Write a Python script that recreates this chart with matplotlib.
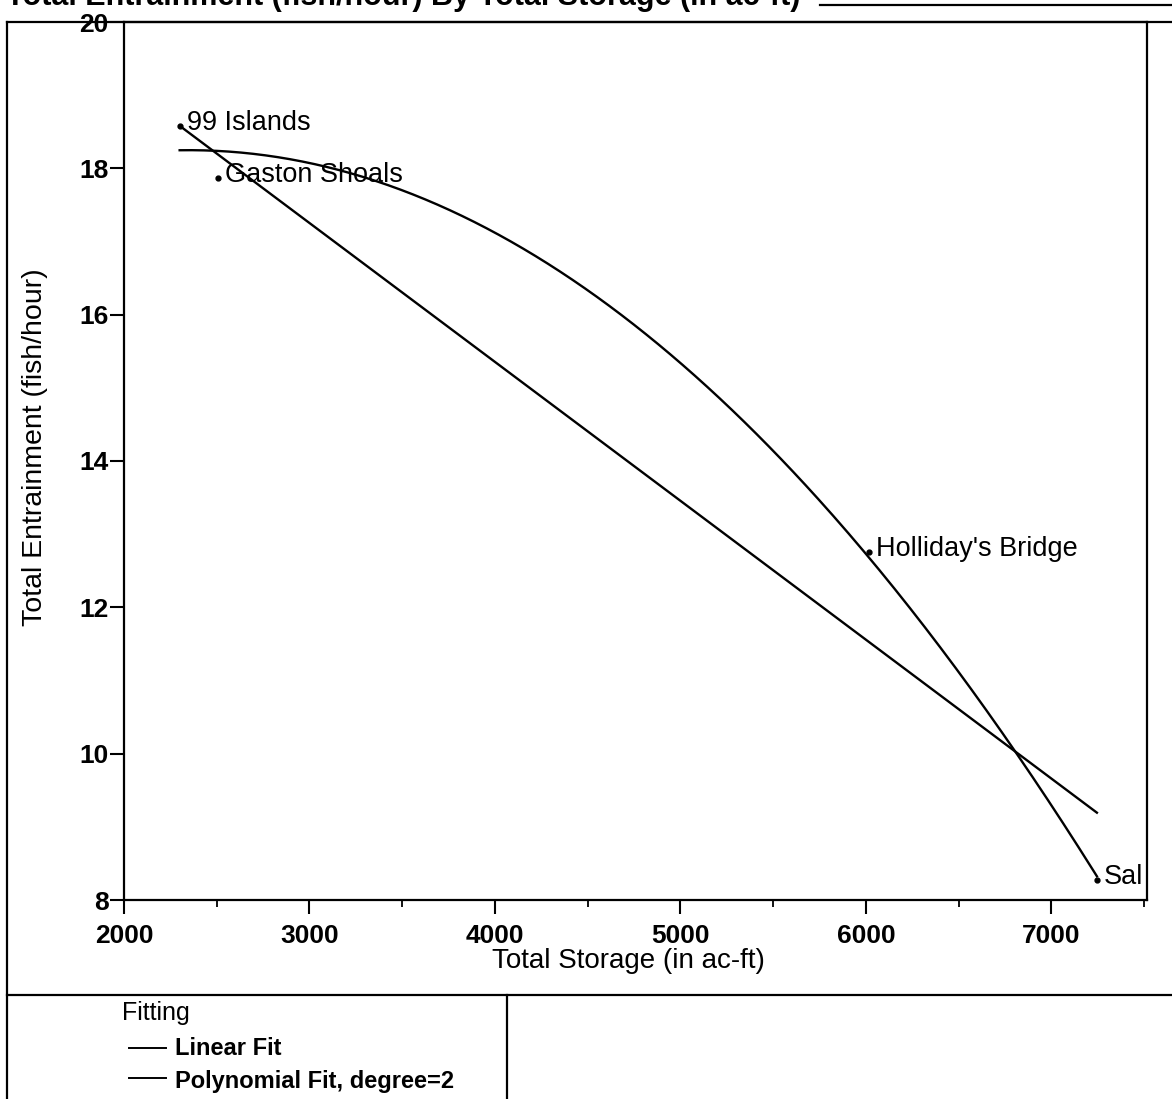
import numpy as np
import matplotlib
matplotlib.use("Agg")
import matplotlib.pyplot as plt
from matplotlib.lines import Line2D
from matplotlib.ticker import MultipleLocator

plt.rcParams['font.family'] = ['Liberation Sans', 'DejaVu Sans']

# Data
sites = ["99 Islands", "Gaston Shoals", "Holliday's Bridge", "Sal"]
storage = [2300, 2507, 6016, 7245]          # Total Storage (ac-ft)
entrainment = [18.58, 17.87, 12.76, 8.28]   # Total Entrainment (fish/hour)

x_ticks = [2000, 3000, 4000, 5000, 6000, 7000]
y_ticks = [8, 10, 12, 14, 16, 18, 20]

title = "Total Entrainment (fish/hour) By Total Storage (in ac-ft)"
xlabel = "Total Storage (in ac-ft)"
ylabel = "Total Entrainment (fish/hour)"
legend_title = "Fitting"
legend_items = ["Linear Fit", "Polynomial Fit, degree=2"]

W, H = 1172, 1099
fig = plt.figure(figsize=(W / 100, H / 100), dpi=100)

def fx(px):
    return px / W

def fy(py):
    return 1 - py / H

ax = fig.add_axes([fx(124), fy(900), fx(1147) - fx(124), fy(22) - fy(900)])
ax.set_xlim(2000, 7515)
ax.set_ylim(8, 20)

x = np.array(storage, dtype=float)
y = np.array(entrainment, dtype=float)
xs = np.linspace(x.min(), x.max(), 300)
lin = np.polyfit(x, y, 1)
quad = np.polyfit(x, y, 2)
ax.plot(xs, np.polyval(lin, xs), color='black', lw=1.7)
ax.plot(xs, np.polyval(quad, xs), color='black', lw=1.7)
ax.plot(x, y, 'o', color='black', ms=3.5)

for name, xi, yi in zip(sites, storage, entrainment):
    ax.annotate(name, (xi, yi), xytext=(5, 2), textcoords='offset points',
                ha='left', va='center', fontsize=19.5)

ax.set_xticks(x_ticks)
ax.set_yticks(y_ticks)
ax.xaxis.set_minor_locator(MultipleLocator(500))
ax.tick_params(axis='both', which='major', direction='out', length=10, width=1.5,
               labelsize=19)
ax.tick_params(axis='x', which='minor', direction='out', length=5, width=1.3)
ax.tick_params(axis='x', which='major', pad=7)
ax.tick_params(axis='y', which='major', pad=1)
for lbl in ax.get_xticklabels() + ax.get_yticklabels():
    lbl.set_fontweight('bold')
for s in ax.spines.values():
    s.set_linewidth(1.6)

fig.text(fx(628), fy(948), xlabel, ha='center', va='top', fontsize=20)
fig.text(fx(35), fy(447), ylabel, ha='center', va='center', rotation=90, fontsize=20.5)

# title, clipped by the top edge as in the scan
fig.text(fx(6), fy(5), title, ha='left', va='baseline', fontsize=22, fontweight='bold')

# frame lines of the report layout
frame = [
    ((7, 1172), (22, 22)),
    ((7, 7), (22, 1099)),
    ((7, 1172), (995, 995)),
    ((507, 507), (995, 1099)),
    ((820, 1172), (5, 5)),
]
for (xa, xb), (ya, yb) in frame:
    fig.add_artist(Line2D([fx(xa), fx(xb)], [fy(ya), fy(yb)], color='black', lw=1.6,
                          transform=fig.transFigure))

# legend panel
fig.text(fx(122), fy(1020), legend_title, ha='left', va='baseline', fontsize=18)
rows = [(1048, 1055), (1078, 1088)]
for item, (ly, by) in zip(legend_items, rows):
    fig.add_artist(Line2D([fx(129), fx(166)], [fy(ly), fy(ly)], color='black', lw=1.4,
                          transform=fig.transFigure))
    fig.text(fx(175), fy(by), item, ha='left', va='baseline', fontsize=17, fontweight='bold')

fig.savefig("out.png", dpi=100)
